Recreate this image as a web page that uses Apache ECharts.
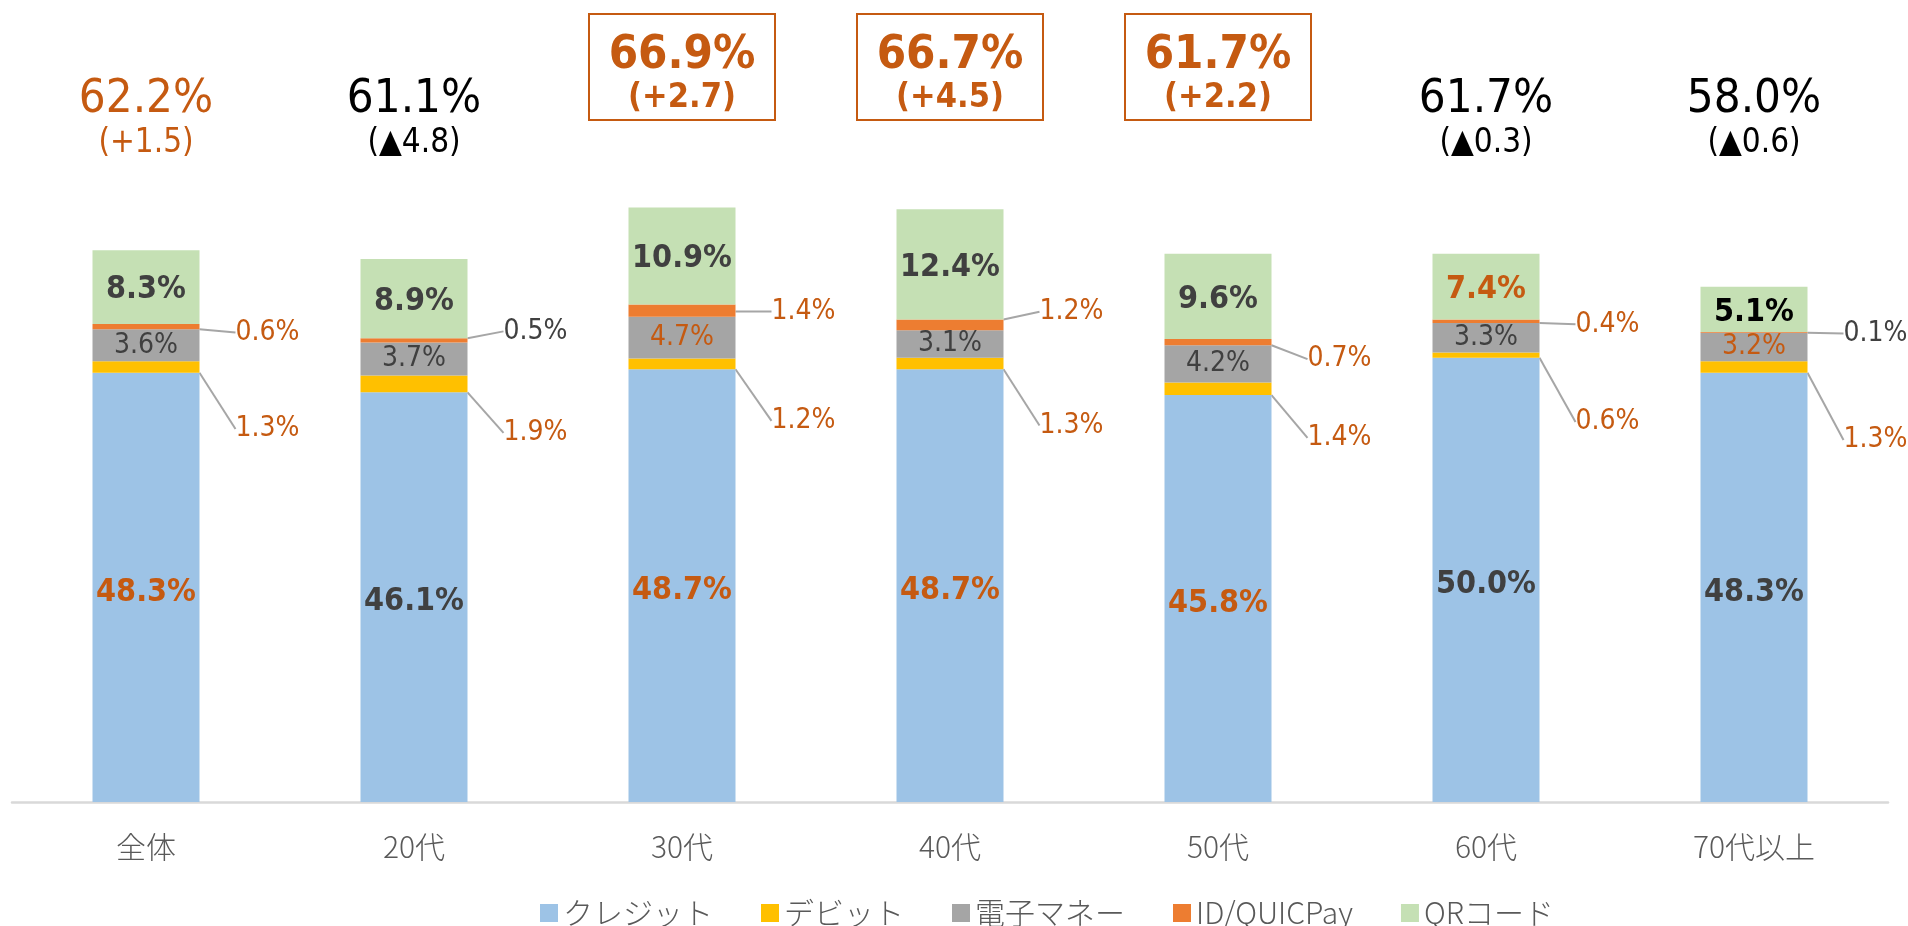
<!DOCTYPE html>
<html>
<head>
<meta charset="utf-8">
<script src="https://cdn.jsdelivr.net/npm/echarts@6/dist/echarts.min.js"></script>
<style>
html,body{margin:0;padding:0;background:#fff;}
#chart{width:1908px;height:926px;}
</style>
</head>
<body>
<div id="chart"></div>
<script>
// ---- data ----
const categories = ['全体', '20代', '30代', '40代', '50代', '60代', '70代以上'];
const seriesNames = ['クレジット', 'デビット', '電子マネー', 'ID/QUICPay', 'QRコード'];
const credit = [48.3, 46.1, 48.7, 48.7, 45.8, 50.0, 48.3];
const debit  = [1.3, 1.9, 1.2, 1.3, 1.4, 0.6, 1.3];
const emoney = [3.6, 3.7, 4.7, 3.1, 4.2, 3.3, 3.2];
const idPay  = [0.6, 0.5, 1.4, 1.2, 0.7, 0.4, 0.1];
const qr     = [8.3, 8.9, 10.9, 12.4, 9.6, 7.4, 5.1];
const totals = [62.2, 61.1, 66.9, 66.7, 61.7, 61.7, 58.0];
const deltas = [1.5, -4.8, 2.7, 4.5, 2.2, -0.3, -0.6];

// ---- styles / layout ----
const O = '#C55A11', D = '#404040', K = '#000000';
const colors = ['#9DC3E6', '#FFC000', '#A5A5A5', '#ED7D31', '#C5E0B4'];
const creditLabelColor = [O, D, O, O, O, D, D];
const debitLabelColor  = [O, O, O, O, O, O, O];
const emoneyLabelColor = [D, D, O, D, D, D, O];
const idLabelColor     = [O, D, O, O, O, O, D];
const qrLabelColor     = [D, D, D, D, D, O, K];
const boxed    = [false, false, true, true, true, false, false];
const topColor = [O, K, O, O, O, K, K];
// small per-category nudges of the outside labels (px)
const debitNudge = [0, -13, -5, 0, -13, 5, 11];
const idNudge    = [5, -10, 0, -14, 16, 2, 0];

const NUM = "'Liberation Sans Narrow', 'Arial Narrow', 'DejaVu Sans Condensed', 'Noto Sans CJK JP', sans-serif";
const CJK = "'Liberation Sans Narrow', 'Noto Sans CJK JP', sans-serif";

const fmt = v => v.toFixed(1) + '%';
const fmtDelta = v => '(' + (v < 0 ? '▲' + Math.abs(v).toFixed(1) : '+' + v.toFixed(1)) + ')';

function withColors(vals, cols) {
  return vals.map((v, i) => ({ value: v, label: { color: cols[i] } }));
}

const barWidth = 107;
const leader = { show: true, lineStyle: { color: '#A6A6A6', width: 2 } };

const series = [
  {
    name: seriesNames[0], type: 'bar', stack: 's', barWidth,
    itemStyle: { color: colors[0] },
    label: { show: true, position: 'inside', offset: [0, 5], formatter: p => fmt(p.value), fontSize: 32, fontWeight: 'bold', fontFamily: NUM },
    data: withColors(credit, creditLabelColor)
  },
  {
    name: seriesNames[1], type: 'bar', stack: 's', barWidth,
    itemStyle: { color: colors[1] },
    label: { show: true, position: 'right', distance: 36, formatter: p => fmt(p.value), fontSize: 28, fontFamily: NUM },
    labelLine: leader,
    labelLayout: p => ({ dy: 62 + debitNudge[p.dataIndex] }),
    data: withColors(debit, debitLabelColor)
  },
  {
    name: seriesNames[2], type: 'bar', stack: 's', barWidth,
    itemStyle: { color: colors[2] },
    label: { show: true, position: 'inside', formatter: p => fmt(p.value), fontSize: 28, fontFamily: NUM },
    data: withColors(emoney, emoneyLabelColor)
  },
  {
    name: seriesNames[3], type: 'bar', stack: 's', barWidth,
    itemStyle: { color: colors[3] },
    label: { show: true, position: 'right', distance: 36, formatter: p => fmt(p.value), fontSize: 28, fontFamily: NUM },
    labelLine: leader,
    labelLayout: p => ({ dy: 1 + idNudge[p.dataIndex] }),
    data: withColors(idPay, idLabelColor)
  },
  {
    name: seriesNames[4], type: 'bar', stack: 's', barWidth,
    itemStyle: { color: colors[4] },
    label: { show: true, position: 'inside', offset: [0, 3], formatter: p => fmt(p.value), fontSize: 32, fontWeight: 'bold', fontFamily: NUM },
    data: withColors(qr, qrLabelColor)
  },
  {
    name: 'total', type: 'custom', silent: true,
    data: categories.map((c, i) => [i, totals[i], deltas[i]]),
    encode: { x: 0, y: 1 },
    renderItem: function (params, api) {
      const i = api.value(0);
      const x = api.coord([i, 0])[0];
      const top = params.coordSys.y;
      const b = boxed[i];
      const col = topColor[i];
      const children = [];
      if (b) {
        children.push({ type: 'rect', shape: { x: x - 93, y: top - 166, width: 186, height: 106 },
          style: { fill: 'none', stroke: O, lineWidth: 2 } });
      }
      children.push({ type: 'text', style: {
        text: fmt(api.value(1)), x: x, y: b ? top - 124 : top - 80,
        align: 'center', verticalAlign: 'middle',
        fontSize: 47, fontWeight: b ? 'bold' : 'normal', fontFamily: NUM, fill: col } });
      children.push({ type: 'text', style: {
        text: fmtDelta(api.value(2)), x: x, y: b ? top - 82 : top - 37,
        align: 'center', verticalAlign: 'middle',
        fontSize: b ? 34 : 33, fontWeight: b ? 'bold' : 'normal', fontFamily: NUM, fill: col } });
      return { type: 'group', children };
    }
  }
];

const chart = echarts.init(document.getElementById('chart'), null, { renderer: 'canvas' });
chart.setOption({
  animation: false,
  backgroundColor: '#ffffff',
  grid: { left: 12, right: 20, top: 180, bottom: 124, containLabel: false },
  legend: {
    data: seriesNames,
    left: 535, top: 893,
    itemWidth: 18, itemHeight: 18, itemGap: 48,
    icon: 'rect',
    textStyle: { fontSize: 30, color: '#595959', fontFamily: CJK, fontWeight: 300 }
  },
  xAxis: {
    type: 'category', data: categories,
    axisLine: { lineStyle: { color: '#D9D9D9', width: 2.5 } },
    axisTick: { show: false },
    axisLabel: { margin: 30, fontSize: 30, color: '#595959', fontFamily: CJK, fontWeight: 300 }
  },
  yAxis: { type: 'value', min: 0, max: 70, show: false, splitLine: { show: false } },
  series
});
</script>
</body>
</html>
